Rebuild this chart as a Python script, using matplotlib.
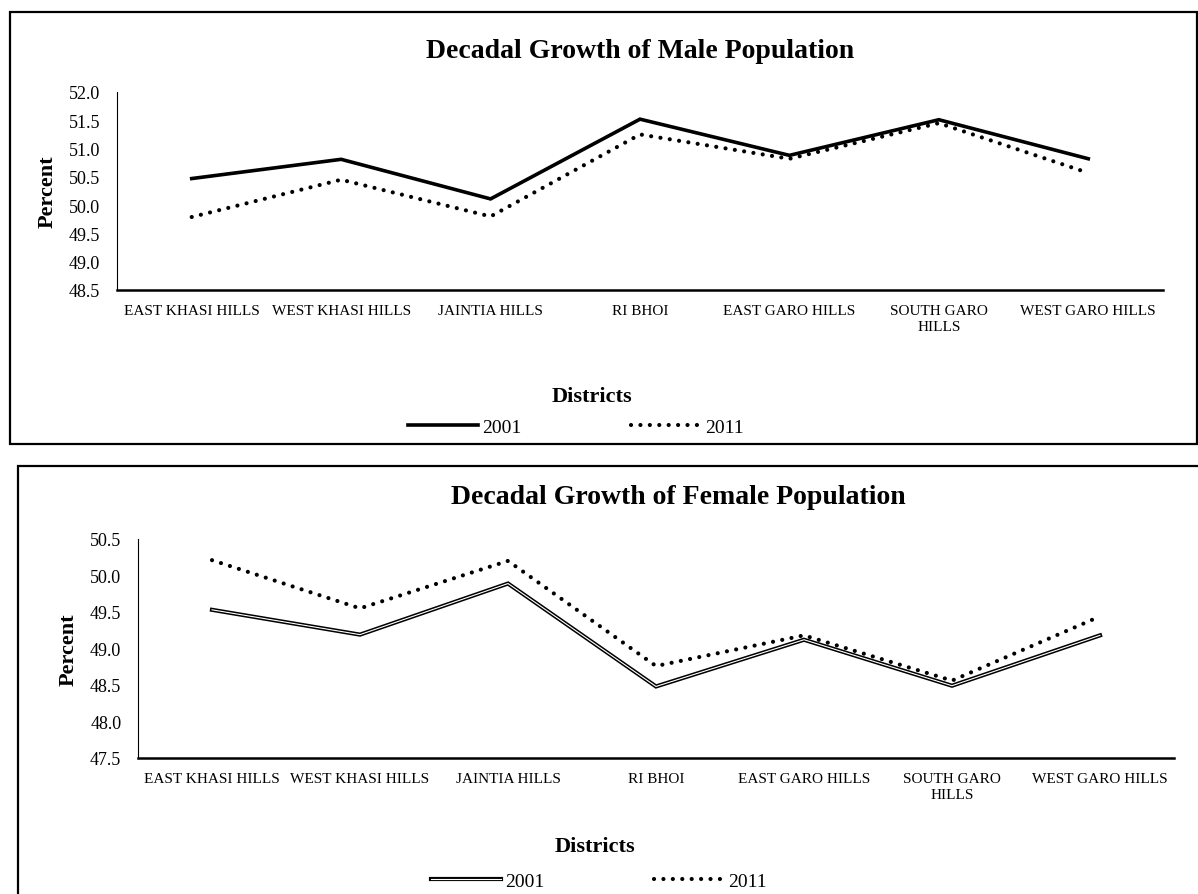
import matplotlib
matplotlib.use("Agg")
import matplotlib.pyplot as plt
import matplotlib.patheffects as pe
from matplotlib.patches import Rectangle
import numpy as np

plt.rcParams['font.family'] = ['Liberation Serif', 'DejaVu Serif']

districts = ["EAST KHASI HILLS", "WEST KHASI HILLS", "JAINTIA HILLS", "RI BHOI",
             "EAST GARO HILLS", "SOUTH GARO\nHILLS", "WEST GARO HILLS"]
male_2001 = [50.47, 50.81, 50.11, 51.52, 50.88, 51.51, 50.82]
male_2011 = [49.79, 50.45, 49.80, 51.25, 50.82, 51.45, 50.57]
female_2001 = [49.53, 49.19, 49.89, 48.48, 49.12, 48.49, 49.18]
female_2011 = [50.21, 49.55, 50.20, 48.76, 49.18, 48.56, 49.44]
male_yticks = [48.5, 49.0, 49.5, 50.0, 50.5, 51.0, 51.5, 52.0]
female_yticks = [47.5, 48.0, 48.5, 49.0, 49.5, 50.0, 50.5]
years = ["2001", "2011"]

W, H = 1198, 895
fig = plt.figure(figsize=(W / 100, H / 100), dpi=100)


def fx(px):
    return px / W


def fy(py):
    return 1 - py / H


def add_box(x0, y0, x1, y1):
    r = Rectangle((fx(x0), fy(y1)), fx(x1) - fx(x0), fy(y0) - fy(y1),
                  transform=fig.transFigure, fill=False, edgecolor='black',
                  linewidth=1.6, zorder=0)
    fig.add_artist(r)


def make_panel(ax_px, vals2001, vals2011, yticks, title, title_xy, ylab_xy,
               xlab_xy, leg_xy, double):
    x0, y0, x1, y1 = ax_px
    ax = fig.add_axes([fx(x0), fy(y1), fx(x1) - fx(x0), fy(y0) - fy(y1)])
    x = np.arange(len(districts))
    if double:
        l1, = ax.plot(x, vals2001, color='white', lw=0.8, solid_joinstyle='miter',
                      path_effects=[pe.Stroke(linewidth=3.0, foreground='black'), pe.Normal()],
                      label=years[0])
    else:
        l1, = ax.plot(x, vals2001, color='black', lw=2.6, solid_joinstyle='miter',
                      label=years[0])
    l2, = ax.plot(x, vals2011, color='black', lw=3.0, linestyle=(0, (0.01, 2.25)),
                  dash_capstyle='round', label=years[1])
    ax.set_xlim(-0.5, len(districts) - 0.5)
    ax.set_ylim(yticks[0], yticks[-1])
    ax.set_yticks(yticks)
    ax.set_yticklabels([f"{v:.1f}" for v in yticks], fontsize=13)
    ax.set_xticks(x)
    ax.set_xticklabels(districts, fontsize=11, linespacing=1.35)
    ax.tick_params(axis='both', length=0)
    ax.tick_params(axis='y', pad=12)
    ax.tick_params(axis='x', pad=10)
    for s in ['top', 'right']:
        ax.spines[s].set_visible(False)
    ax.spines['left'].set_linewidth(0.8)
    ax.spines['bottom'].set_linewidth(1.8)
    ax.patch.set_alpha(0)

    fig.text(fx(title_xy[0]), fy(title_xy[1]), title, fontsize=20,
             fontweight='bold', ha='center', va='center')
    fig.text(fx(ylab_xy[0]), fy(ylab_xy[1]), "Percent", fontsize=16,
             fontweight='bold', ha='center', va='center', rotation=90)
    fig.text(fx(xlab_xy[0]), fy(xlab_xy[1]), "Districts", fontsize=16,
             fontweight='bold', ha='center', va='center')
    fig.legend(handles=[l1, l2], loc='center',
               bbox_to_anchor=(fx(leg_xy[0]), fy(leg_xy[1])),
               bbox_transform=fig.transFigure, ncol=2, frameon=False,
               fontsize=14, handlelength=3.6, handletextpad=0.25,
               columnspacing=5.6, borderpad=0, borderaxespad=0)
    return ax


add_box(10, 13, 1197, 445)
add_box(18, 467, 1260, 960)

make_panel((117, 93, 1163, 291), male_2001, male_2011, male_yticks,
           "Decadal Growth of Male Population", (640, 52), (48, 192),
           (592, 397), (576, 428), double=False)
make_panel((138, 540, 1174, 759), female_2001, female_2011, female_yticks,
           "Decadal Growth of Female Population", (678, 498), (69, 650),
           (595, 847), (599, 882), double=True)

fig.savefig("out.png", dpi=100)
